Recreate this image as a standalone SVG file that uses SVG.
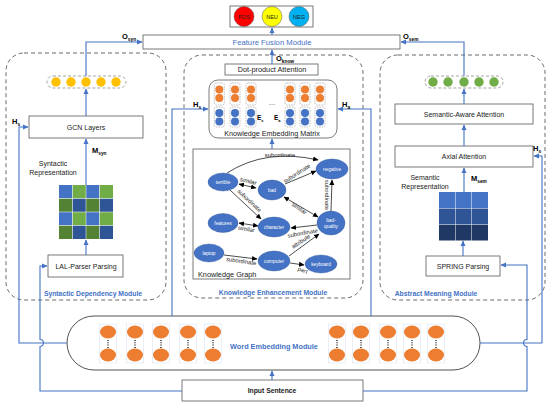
<svg xmlns="http://www.w3.org/2000/svg" width="550" height="404" viewBox="0 0 550 404">
<defs>
<style>
text{font-family:"Liberation Sans",Arial,sans-serif;fill:#222}
.box{fill:#fff;stroke:#595959;stroke-width:0.8}
.mod{fill:none;stroke:#595959;stroke-width:0.9;stroke-dasharray:4 3}
.conn{fill:none;stroke:#4472C4;stroke-width:1.1}
.kg{fill:none;stroke:#000;stroke-width:0.7}
.lbl{font-size:7px;text-anchor:middle}
.blue{fill:#4472C4}
.modlbl{font-size:6.8px;font-weight:bold;fill:#4472C4;text-anchor:middle}
.node{fill:#4472C4;stroke:#2F5597;stroke-width:0.4}
.nt{font-size:4.8px;fill:#fff;text-anchor:middle}
.el{font-size:5.8px;fill:#222;text-anchor:middle}
.sym{font-size:7.5px;font-weight:bold;fill:#000}
.sub{font-size:4.8px;font-weight:bold;fill:#000}
.or{fill:#ED7D31}
.bl{fill:#4472C4}
.col{fill:none;stroke:#7f7f7f;stroke-width:0.5;stroke-dasharray:1.5 1}
.wcol{fill:none;stroke:#DAE3F3;stroke-width:0.6}
</style>
<marker id="ab" markerWidth="6" markerHeight="6" refX="5" refY="3" orient="auto" markerUnits="userSpaceOnUse"><path d="M0,0.5 L5.5,3 L0,5.5 z" fill="#4472C4"/></marker>
<marker id="ak" markerWidth="6" markerHeight="6" refX="5" refY="3" orient="auto-start-reverse" markerUnits="userSpaceOnUse"><path d="M0,0.5 L5.5,3 L0,5.5 z" fill="#000"/></marker>
</defs>
<rect width="550" height="404" fill="#fff"/>

<g id="output">
<rect x="230" y="6" width="83" height="21" fill="#fff" stroke="#595959" stroke-width="0.8"/>
<circle cx="244" cy="16.5" r="10" fill="#FF0000" stroke="#595959" stroke-width="0.5"/>
<circle cx="272" cy="16.5" r="10" fill="#FFFF00" stroke="#595959" stroke-width="0.5"/>
<circle cx="299" cy="16.5" r="10" fill="#00B0F0" stroke="#595959" stroke-width="0.5"/>
<text x="244" y="18.5" style="font-size:5.5px;text-anchor:middle">POS</text>
<text x="272" y="18.5" style="font-size:5.5px;text-anchor:middle">NEU</text>
<text x="299" y="18.5" style="font-size:5.5px;text-anchor:middle">NEG</text>
</g>

<g id="feature-fusion">
<rect class="box" x="143" y="35" width="257" height="14"/>
<text x="272" y="44.8" class="blue" style="font-size:7.7px;text-anchor:middle">Feature Fusion Module</text>
</g>

<g id="syntactic-module">
<rect class="mod" x="6" y="53" width="160" height="247" rx="18"/>
<text x="93" y="296" class="modlbl">Syntactic Dependency Module</text>
</g>
<g id="syn-vector">
<rect x="47" y="76" width="79" height="12" rx="6" class="col" style="stroke-width:0.7;stroke-dasharray:3 2"/>
<circle cx="56" cy="82" r="4.7" fill="#FFC000"/>
<circle cx="71" cy="82" r="4.7" fill="#FFC000"/>
<circle cx="86" cy="82" r="4.7" fill="#FFC000"/>
<circle cx="101" cy="82" r="4.7" fill="#FFC000"/>
<circle cx="116" cy="82" r="4.7" fill="#FFC000"/>
</g>
<g id="gcn">
<rect class="box" x="29" y="116" width="114" height="22"/>
<text x="86" y="129.5" class="lbl">GCN Layers</text>
</g>
<g id="syn-matrix">
<text x="53" y="166" class="lbl">Syntactic</text>
<text x="53" y="175" class="lbl">Representation</text>
<rect x="59" y="185" width="13.5" height="13.5" fill="#4472C4"/>
<rect x="72.5" y="185" width="13.5" height="13.5" fill="#70AD47"/>
<rect x="86" y="185" width="13.5" height="13.5" fill="#4472C4"/>
<rect x="99.5" y="185" width="13.5" height="13.5" fill="#70AD47"/>
<rect x="59" y="198.5" width="13.5" height="13.5" fill="#548235"/>
<rect x="72.5" y="198.5" width="13.5" height="13.5" fill="#2F5597"/>
<rect x="86" y="198.5" width="13.5" height="13.5" fill="#548235"/>
<rect x="99.5" y="198.5" width="13.5" height="13.5" fill="#2F5597"/>
<rect x="59" y="212" width="13.5" height="13.5" fill="#4472C4"/>
<rect x="72.5" y="212" width="13.5" height="13.5" fill="#70AD47"/>
<rect x="86" y="212" width="13.5" height="13.5" fill="#4472C4"/>
<rect x="99.5" y="212" width="13.5" height="13.5" fill="#70AD47"/>
<rect x="59" y="225.5" width="13.5" height="13.5" fill="#548235"/>
<rect x="72.5" y="225.5" width="13.5" height="13.5" fill="#2F5597"/>
<rect x="86" y="225.5" width="13.5" height="13.5" fill="#548235"/>
<rect x="99.5" y="225.5" width="13.5" height="13.5" fill="#2F5597"/>
<g fill="none" stroke="#fff" stroke-width="0.5"><path d="M59,198.5H113M59,212H113M59,225.5H113M72.5,185V239M86,185V239M99.5,185V239"/></g>
</g>
<g id="lal">
<rect class="box" x="48" y="255" width="75" height="22"/>
<text x="86" y="268.5" class="lbl">LAL-Parser Parsing</text>
</g>

<g id="knowledge-module">
<rect class="mod" x="184" y="55" width="179" height="243" rx="18"/>
<text x="273" y="295" class="modlbl">Knowledge Enhancement Module</text>
</g>
<g id="dot-product">
<rect class="box" x="225" y="64" width="93" height="11"/>
<text x="272" y="72.3" class="lbl" style="font-size:7.3px">Dot-product Attention</text>
</g>
<g id="knowledge-matrix">
<rect x="209" y="80" width="128" height="58" rx="9" fill="#fff" stroke="#595959" stroke-width="0.8"/>
<g id="kcols">
<rect class="col" x="214.3" y="83" width="10" height="22" rx="2"/><rect class="col" x="214.3" y="107" width="10" height="20" rx="2"/>
<circle class="or" cx="219.3" cy="89.5" r="4"/><circle class="or" cx="219.3" cy="98" r="4"/><circle class="bl" cx="219.3" cy="113" r="4"/><circle class="bl" cx="219.3" cy="121.5" r="4"/>
<rect class="col" x="230" y="83" width="10" height="22" rx="2"/><rect class="col" x="230" y="107" width="10" height="20" rx="2"/>
<circle class="or" cx="235" cy="89.5" r="4"/><circle class="or" cx="235" cy="98" r="4"/><circle class="bl" cx="235" cy="113" r="4"/><circle class="bl" cx="235" cy="121.5" r="4"/>
<rect class="col" x="246" y="83" width="10" height="22" rx="2"/><rect class="col" x="246" y="107" width="10" height="20" rx="2"/>
<circle class="or" cx="251" cy="89.5" r="4"/><circle class="or" cx="251" cy="98" r="4"/><circle class="bl" cx="251" cy="113" r="4"/><circle class="bl" cx="251" cy="121.5" r="4"/>
<rect class="col" x="285" y="83" width="10" height="22" rx="2"/><rect class="col" x="285" y="107" width="10" height="20" rx="2"/>
<circle class="or" cx="290" cy="89.5" r="4"/><circle class="or" cx="290" cy="98" r="4"/><circle class="bl" cx="290" cy="113" r="4"/><circle class="bl" cx="290" cy="121.5" r="4"/>
<rect class="col" x="300" y="83" width="10" height="22" rx="2"/><rect class="col" x="300" y="107" width="10" height="20" rx="2"/>
<circle class="or" cx="305" cy="89.5" r="4"/><circle class="or" cx="305" cy="98" r="4"/><circle class="bl" cx="305" cy="113" r="4"/><circle class="bl" cx="305" cy="121.5" r="4"/>
<rect class="col" x="315" y="83" width="10" height="22" rx="2"/><rect class="col" x="315" y="107" width="10" height="20" rx="2"/>
<circle class="or" cx="320" cy="89.5" r="4"/><circle class="or" cx="320" cy="98" r="4"/><circle class="bl" cx="320" cy="113" r="4"/><circle class="bl" cx="320" cy="121.5" r="4"/>
</g>
<text x="272" y="105" class="lbl">…</text>
<text x="257" y="120" class="sym" style="font-size:6.5px">E<tspan class="sub" dy="1.5" style="font-size:4px">s</tspan></text>
<text x="274" y="120" class="sym" style="font-size:6.5px">E<tspan class="sub" dy="1.5" style="font-size:4px">a</tspan></text>
<text x="272" y="135.5" class="lbl" style="font-size:7.2px">Knowledge Embedding Matrix</text>
</g>
<g id="knowledge-graph">
<rect x="193" y="149" width="157" height="130" fill="#fff" stroke="#595959" stroke-width="0.8"/>
<text x="198" y="277" style="font-size:7.3px">Knowledge Graph</text>
<g id="kg-edges">
<path class="kg" d="M227,173 Q266,148 318,160" marker-end="url(#ak)"/>
<text x="280" y="157" class="el">subordinate</text>
<path class="kg" d="M239,184 L256,188" marker-start="url(#ak)" marker-end="url(#ak)"/>
<text x="248" y="183" class="el" transform="rotate(14 248 183)">similar</text>
<path class="kg" d="M285,184 L316,171" marker-end="url(#ak)"/>
<text x="298" y="175" class="el" transform="rotate(-33 298 175)">subordinate</text>
<path class="kg" d="M284,197 L318,217" marker-start="url(#ak)" marker-end="url(#ak)"/>
<text x="298" y="210" class="el" transform="rotate(35 298 210)">similar</text>
<path class="kg" d="M331,211 L332,180" marker-end="url(#ak)"/>
<text x="325" y="195" class="el" transform="rotate(90 325 195)">subordinate</text>
<path class="kg" d="M230,190 L261,219" marker-end="url(#ak)"/>
<text x="248" y="202" class="el" transform="rotate(43 248 202)">subordinate</text>
<path class="kg" d="M258,226 L239,223" marker-start="url(#ak)" marker-end="url(#ak)"/>
<text x="246" y="231" class="el" transform="rotate(10 246 231)">similar</text>
<path class="kg" d="M317,225 L291,228" marker-end="url(#ak)"/>
<text x="303" y="235" class="el" transform="rotate(-10 303 235)">subordinate</text>
<path class="kg" d="M289,256 L319,234" marker-end="url(#ak)"/>
<text x="302" y="243" class="el" transform="rotate(-34 302 243)">attribute</text>
<path class="kg" d="M224,255 L257,259" marker-end="url(#ak)"/>
<text x="241" y="263" class="el" transform="rotate(8 241 263)">subordinate</text>
<path class="kg" d="M290,263 L304,265" marker-end="url(#ak)"/>
<text x="302" y="272" class="el" transform="rotate(22 302 272)">part</text>
</g>
<g id="kg-nodes">
<ellipse class="node" cx="223" cy="182" rx="15" ry="9"/><text x="223" y="183.8" class="nt">terrible</text>
<ellipse class="node" cx="272" cy="190" rx="14" ry="10"/><text x="272" y="191.8" class="nt">bad</text>
<ellipse class="node" cx="332" cy="169" rx="16" ry="10"/><text x="332" y="170.8" class="nt">negative</text>
<ellipse class="node" cx="223" cy="223" rx="15" ry="9.5"/><text x="223" y="224.8" class="nt">features</text>
<ellipse class="node" cx="274" cy="227" rx="16" ry="10"/><text x="274" y="228.8" class="nt">character</text>
<ellipse class="node" cx="331" cy="223" rx="14" ry="12"/><text x="331" y="221.5" class="nt">bad-</text><text x="331" y="227.5" class="nt">quality</text>
<ellipse class="node" cx="209" cy="253" rx="15" ry="9"/><text x="209" y="254.8" class="nt">laptop</text>
<ellipse class="node" cx="274" cy="261" rx="16" ry="10"/><text x="274" y="262.8" class="nt">computer</text>
<ellipse class="node" cx="321" cy="264" rx="16" ry="9"/><text x="321" y="265.8" class="nt">keyboard</text>
</g>
</g>

<g id="semantic-module">
<rect class="mod" x="380" y="55" width="165" height="245" rx="18"/>
<text x="436" y="296" class="modlbl">Abstract Meaning Module</text>
</g>
<g id="sem-vector">
<rect x="425" y="76" width="78" height="12" rx="6" class="col" style="stroke-width:0.7;stroke-dasharray:3 2"/>
<circle cx="433" cy="82" r="4.7" fill="#70AD47"/>
<circle cx="448" cy="82" r="4.7" fill="#70AD47"/>
<circle cx="464" cy="82" r="4.7" fill="#70AD47"/>
<circle cx="479" cy="82" r="4.7" fill="#70AD47"/>
<circle cx="494" cy="82" r="4.7" fill="#70AD47"/>
</g>
<g id="semantic-aware">
<rect class="box" x="395" y="104" width="138" height="20"/>
<text x="464" y="116.5" class="lbl">Semantic-Aware  Attention</text>
</g>
<g id="axial">
<rect class="box" x="395" y="146" width="138" height="21"/>
<text x="464" y="159" class="lbl">Axial Attention</text>
</g>
<g id="sem-matrix">
<text x="425" y="180" class="lbl">Semantic</text>
<text x="425" y="189" class="lbl">Representation</text>
<rect x="439" y="192" width="16" height="16" fill="#4472C4"/>
<rect x="455.5" y="192" width="16" height="16" fill="#4472C4"/>
<rect x="472" y="192" width="16" height="16" fill="#4472C4"/>
<rect x="439" y="208.5" width="16" height="16" fill="#2F5597"/>
<rect x="455.5" y="208.5" width="16" height="16" fill="#2F5597"/>
<rect x="472" y="208.5" width="16" height="16" fill="#2F5597"/>
<rect x="439" y="225" width="16" height="15.5" fill="#1F3864"/>
<rect x="455.5" y="225" width="16" height="15.5" fill="#1F3864"/>
<rect x="472" y="225" width="16" height="15.5" fill="#1F3864"/>
</g>
<g id="spring">
<rect class="box" x="426" y="256" width="74" height="20"/>
<text x="463" y="268.5" class="lbl">SPRING Parsing</text>
</g>

<g id="word-embedding">
<rect x="67" y="316" width="413" height="54" rx="27" fill="#fff" stroke="#404040" stroke-width="0.9"/>
<text x="274" y="349" style="font-size:7.3px;font-weight:bold;fill:#4472C4;text-anchor:middle">Word Embedding Module</text>
<g id="wcols">
<rect class="wcol" x="99.5" y="324" width="17" height="39"/><ellipse class="or" cx="108" cy="332" rx="8" ry="6.5"/><ellipse class="or" cx="108" cy="355" rx="8" ry="6.5"/>
<rect class="wcol" x="126.5" y="324" width="17" height="39"/><ellipse class="or" cx="135" cy="332" rx="8" ry="6.5"/><ellipse class="or" cx="135" cy="355" rx="8" ry="6.5"/>
<rect class="wcol" x="152.5" y="324" width="17" height="39"/><ellipse class="or" cx="161" cy="332" rx="8" ry="6.5"/><ellipse class="or" cx="161" cy="355" rx="8" ry="6.5"/>
<rect class="wcol" x="179.5" y="324" width="17" height="39"/><ellipse class="or" cx="188" cy="332" rx="8" ry="6.5"/><ellipse class="or" cx="188" cy="355" rx="8" ry="6.5"/>
<rect class="wcol" x="204.5" y="324" width="17" height="39"/><ellipse class="or" cx="213" cy="332" rx="8" ry="6.5"/><ellipse class="or" cx="213" cy="355" rx="8" ry="6.5"/>
<rect class="wcol" x="328.5" y="324" width="17" height="39"/><ellipse class="or" cx="337" cy="332" rx="8" ry="6.5"/><ellipse class="or" cx="337" cy="355" rx="8" ry="6.5"/>
<rect class="wcol" x="352.5" y="324" width="17" height="39"/><ellipse class="or" cx="361" cy="332" rx="8" ry="6.5"/><ellipse class="or" cx="361" cy="355" rx="8" ry="6.5"/>
<rect class="wcol" x="379.5" y="324" width="17" height="39"/><ellipse class="or" cx="388" cy="332" rx="8" ry="6.5"/><ellipse class="or" cx="388" cy="355" rx="8" ry="6.5"/>
<rect class="wcol" x="403.5" y="324" width="17" height="39"/><ellipse class="or" cx="412" cy="332" rx="8" ry="6.5"/><ellipse class="or" cx="412" cy="355" rx="8" ry="6.5"/>
<rect class="wcol" x="427.5" y="324" width="17" height="39"/><ellipse class="or" cx="436" cy="332" rx="8" ry="6.5"/><ellipse class="or" cx="436" cy="355" rx="8" ry="6.5"/>
<path d="M108,340V348M135,340V348M161,340V348M188,340V348M213,340V348M337,340V348M361,340V348M388,340V348M412,340V348M436,340V348" stroke="#000" stroke-width="1.2" stroke-dasharray="1 1.3" fill="none"/>
</g>
</g>

<g id="input">
<rect class="box" x="182" y="380" width="181" height="21"/>
<text x="272" y="393" style="font-size:6.8px;font-weight:bold;text-anchor:middle">Input Sentence</text>
</g>

<g id="connectors">
<path class="conn" d="M272,35V28" marker-end="url(#ab)"/>
<path class="conn" d="M272,64V50" marker-end="url(#ab)"/>
<path class="conn" d="M86,76V42H142" marker-end="url(#ab)"/>
<path class="conn" d="M464,76V42H401" marker-end="url(#ab)"/>
<path class="conn" d="M86,116V89" marker-end="url(#ab)"/>
<path class="conn" d="M86,185V139" marker-end="url(#ab)"/>
<path class="conn" d="M86,255V240" marker-end="url(#ab)"/>
<path class="conn" d="M67,343H19V127H28" marker-end="url(#ab)"/>
<path class="conn" d="M182,391H40V346.5A3.5,3.5 0 0 0 40,339.5V266H47" marker-end="url(#ab)"/>
<path class="conn" d="M272,380V371" marker-end="url(#ab)"/>
<path class="conn" d="M172,316V109H208" marker-end="url(#ab)"/>
<path class="conn" d="M371,316V109H338" marker-end="url(#ab)"/>
<path class="conn" d="M480,343H542V156H534" marker-end="url(#ab)"/>
<path class="conn" d="M363,391H527V346.5A3.5,3.5 0 0 1 527,339.5V265H501" marker-end="url(#ab)"/>
<path class="conn" d="M463,256V241" marker-end="url(#ab)"/>
<path class="conn" d="M464,192V168" marker-end="url(#ab)"/>
<path class="conn" d="M464,146V125" marker-end="url(#ab)"/>
<path class="conn" d="M464,104V89" marker-end="url(#ab)"/>
<path class="conn" d="M272,149V139" marker-end="url(#ab)"/>
</g>

<g id="labels">
<text x="122" y="39" class="sym">O<tspan class="sub" dy="1.5">syn</tspan></text>
<text x="403" y="39" class="sym">O<tspan class="sub" dy="1.5">sem</tspan></text>
<text x="276" y="61" class="sym">O<tspan class="sub" dy="1.5">know</tspan></text>
<text x="12" y="124" class="sym">H<tspan class="sub" dy="1.5">s</tspan></text>
<text x="92" y="153" class="sym">M<tspan class="sub" dy="1.5">syn</tspan></text>
<text x="193" y="107" class="sym">H<tspan class="sub" dy="1.5">s</tspan></text>
<text x="342" y="107" class="sym">H<tspan class="sub" dy="1.5">a</tspan></text>
<text x="533" y="151" class="sym">H<tspan class="sub" dy="1.5">s</tspan></text>
<text x="471" y="181" class="sym">M<tspan class="sub" dy="1.5">sem</tspan></text>
</g>
</svg>
